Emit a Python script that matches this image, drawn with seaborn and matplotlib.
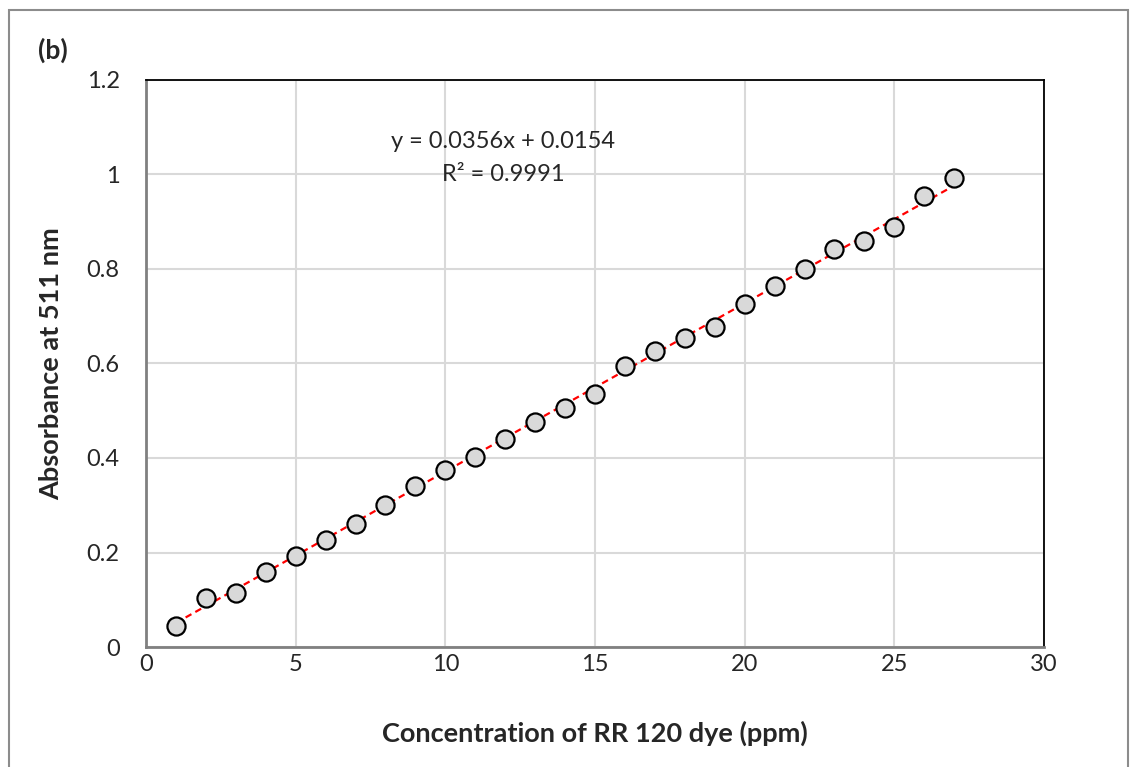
import numpy as np
import matplotlib
matplotlib.use("Agg")
import matplotlib.pyplot as plt
from matplotlib.patches import Rectangle
import seaborn as sns

# calibration data
concentration = [1, 2, 3, 4, 5, 6, 7, 8, 9, 10, 11, 12, 13, 14, 15, 16, 17, 18, 19,
                 20, 21, 22, 23, 24, 25, 26, 27]
absorbance = [0.045, 0.103, 0.115, 0.159, 0.193, 0.226, 0.260, 0.300, 0.340, 0.375,
              0.403, 0.441, 0.476, 0.506, 0.535, 0.595, 0.626, 0.655, 0.678, 0.725,
              0.763, 0.799, 0.842, 0.859, 0.888, 0.954, 0.993]
slope = 0.0356
intercept = 0.0154
r_squared = 0.9991
x_ticks = [0, 5, 10, 15, 20, 25, 30]
y_ticks = [0, 0.2, 0.4, 0.6, 0.8, 1.0, 1.2]
y_tick_labels = ["0", "0.2", "0.4", "0.6", "0.8", "1", "1.2"]

sns.set_style("white")
plt.rcParams['font.family'] = ['Lato', 'DejaVu Sans']

fig = plt.figure(figsize=(11.3, 7.67), dpi=100)
ax = fig.add_axes([146 / 1130, 120 / 767, 898 / 1130, 567 / 767])

# outer chart border
fig.patches.append(Rectangle((9 / 1130, -0.05), 1119 / 1130, 0.05 + 757 / 767,
                             transform=fig.transFigure, fill=False,
                             edgecolor='#8c8c8c', lw=1.5))

# trendline
fit_x = np.array([concentration[0], concentration[-1]])
fit_y = slope * fit_x + intercept
sns.lineplot(x=fit_x, y=fit_y, ax=ax, color='#ff0000', lw=1.6,
             linestyle=(0, (3, 2)), zorder=2)

sns.scatterplot(x=concentration, y=absorbance, ax=ax, s=170, color='#d9d9d9',
                edgecolor='black', linewidth=1.6, zorder=3)

ax.set_xlim(0, 30)
ax.set_ylim(0, 1.2)
ax.set_xticks(x_ticks)
ax.set_yticks(y_ticks)
ax.set_yticklabels(y_tick_labels)
ax.tick_params(axis='both', labelsize=17, length=0)
ax.tick_params(axis='x', pad=5)
ax.tick_params(axis='y', pad=19)
ax.grid(True, color='#d9d9d9', lw=1.5)
ax.set_axisbelow(True)

for side in ['left', 'bottom']:
    ax.spines[side].set_color('#808080')
    ax.spines[side].set_linewidth(2)
for side in ['top', 'right']:
    ax.spines[side].set_color('black')
    ax.spines[side].set_linewidth(1.3)

ax.set_xlabel('Concentration of RR 120 dye (ppm)', fontsize=19.5, fontweight='bold', labelpad=33)
ax.set_ylabel('Absorbance at 511 nm', fontsize=19.5, fontweight='bold', labelpad=17)

ax.text(11.93, 1.069, f'y = {slope}x + {intercept}', fontsize=17, ha='center', va='center')
ax.text(11.93, 1.001, f'R² = {r_squared}', fontsize=17, ha='center', va='center')

fig.text(38 / 1130, 1 - 50 / 767, '(b)', fontsize=19, fontweight='bold', va='center', ha='left')

fig.savefig('out.png', dpi=100)
